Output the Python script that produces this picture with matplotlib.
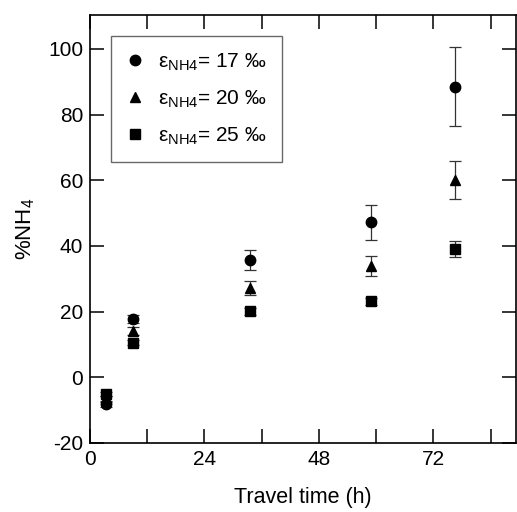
import matplotlib
matplotlib.use("Agg")
import matplotlib.pyplot as plt
from matplotlib.ticker import MultipleLocator

plt.rcParams['font.family'] = ['Liberation Sans', 'DejaVu Sans']
plt.rcParams['mathtext.fontset'] = 'custom'
plt.rcParams['mathtext.rm'] = 'Liberation Sans'
plt.rcParams['mathtext.it'] = 'Liberation Sans'
plt.rcParams['axes.unicode_minus'] = False

# travel time (h) and %NH4 for three enrichment factors
travel_time = [3.3, 9.0, 33.5, 59.0, 76.5]
nh4_e17 = [-8.3, 17.8, 35.8, 47.2, 88.5]
err_e17 = [0.8, 1.2, 3.0, 5.3, 12.0]
nh4_e20 = [-6.5, 14.0, 27.2, 33.8, 60.2]
err_e20 = [0.8, 1.2, 2.0, 3.0, 5.8]
nh4_e25 = [-5.0, 10.5, 20.1, 23.1, 39.1]
err_e25 = [0.6, 0.8, 1.0, 1.0, 2.5]
labels = ['ε$_{\\mathrm{NH4}}$= 17 ‰', 'ε$_{\\mathrm{NH4}}$= 20 ‰', 'ε$_{\\mathrm{NH4}}$= 25 ‰']

fig = plt.figure(figsize=(5.17, 5.12), dpi=100)
ax = fig.add_axes([0.174, 0.135, 0.824, 0.836])

series = [(nh4_e17, err_e17, 'o', 7.5), (nh4_e20, err_e20, '^', 7.5), (nh4_e25, err_e25, 's', 7)]
handles = []
for y, e, m, ms in series:
    c = ax.errorbar(travel_time, y, yerr=e, fmt=m, color='black', ms=ms,
                    ecolor='#333333', elinewidth=0.9, capsize=4, capthick=0.9)
    handles.append(c.lines[0])

ax.set_xlim(0, 89.3)
ax.set_ylim(-20, 110.4)
ax.xaxis.set_major_locator(MultipleLocator(24))
ax.xaxis.set_minor_locator(MultipleLocator(12))
ax.yaxis.set_major_locator(MultipleLocator(20))
ax.tick_params(which='both', direction='in', length=10, width=1.1,
               top=True, right=True, labelsize=15, pad=5)
for sp in ax.spines.values():
    sp.set_linewidth(1.2)

ax.set_xlabel('Travel time (h)', fontsize=15.5, labelpad=13)
ax.set_ylabel('%NH$_4$', fontsize=16, labelpad=8)

leg = ax.legend(handles, labels, loc='upper left', bbox_to_anchor=(0.0486, 0.951),
                borderaxespad=0, fontsize=15, frameon=True, fancybox=False,
                labelspacing=0.75, handlelength=0.8, handletextpad=0.7,
                borderpad=0.75, numpoints=1)
leg.get_frame().set_edgecolor('#444444')
leg.get_frame().set_linewidth(1.0)

fig.savefig('out.png', dpi=100)
